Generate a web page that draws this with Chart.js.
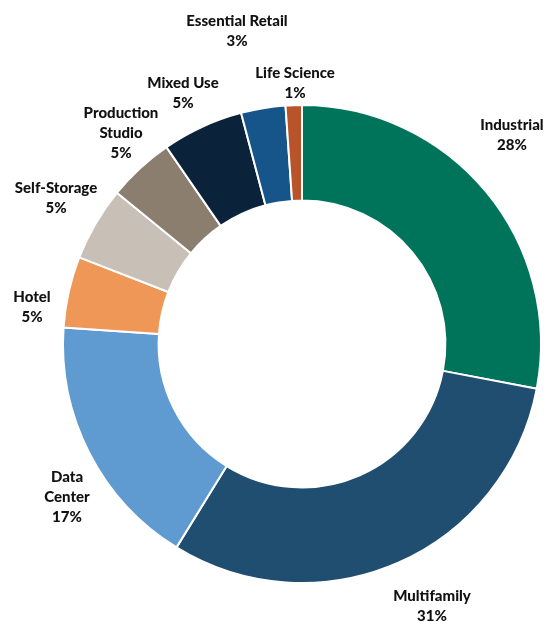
<!DOCTYPE html>
<html>
<head>
<meta charset="utf-8">
<script src="https://cdn.jsdelivr.net/npm/chart.js@4.4.1/dist/chart.umd.min.js"></script>
<style>
  html, body { margin: 0; padding: 0; background: #ffffff; }
  #wrap { position: relative; width: 548px; height: 622px; }
</style>
</head>
<body>
<div id="wrap"><canvas id="c"></canvas></div>
<script>
// ---- data ----
const categories = ["Industrial", "Multifamily", "Data Center", "Hotel", "Self-Storage", "Production Studio", "Mixed Use", "Essential Retail", "Life Science"];
const shares = [28.0, 30.8, 17.3, 4.8, 5.0, 4.5, 5.5, 3.0, 1.1];
const shareLabels = ["28%", "31%", "17%", "5%", "5%", "5%", "5%", "3%", "1%"];
const labelLines = [["Industrial"], ["Multifamily"], ["Data", "Center"], ["Hotel"], ["Self-Storage"], ["Production", "Studio"], ["Mixed Use"], ["Essential Retail"], ["Life Science"]];

// ---- styles ----
const colors = ["#00745a", "#1f4e71", "#5f9bd0", "#ef9756", "#c8bfb7", "#8c7e6e", "#0b223b", "#165589", "#b8532a"];
// text anchor (centre of first line) for each label
const labelAnchors = [[512, 125], [432, 596], [67, 477], [32, 297], [56, 188], [121, 113], [183, 83], [237, 21], [295, 73]];

const labelPlugin = {
  id: 'outerLabels',
  afterDraw(chart) {
    const ctx = chart.ctx;
    ctx.save();
    ctx.fillStyle = '#111111';
    ctx.font = '900 15px Lato, "Liberation Sans", sans-serif';
    ctx.textAlign = 'center';
    ctx.textBaseline = 'middle';
    const lh = 20;
    categories.forEach((c, i) => {
      const [x, y] = labelAnchors[i];
      const lines = labelLines[i].concat([shareLabels[i]]);
      lines.forEach((t, k) => ctx.fillText(t, x, y + k * lh));
    });
    ctx.restore();
  }
};

new Chart(document.getElementById('c'), {
  type: 'doughnut',
  data: {
    labels: categories,
    datasets: [{
      data: shares,
      backgroundColor: colors,
      borderColor: '#ffffff',
      borderWidth: 2
    }]
  },
  options: {
    responsive: true,
    maintainAspectRatio: false,
    animation: false,
    cutout: '60%',
    layout: { padding: { left: 62, right: 6, top: 104, bottom: 38 } },
    plugins: {
      legend: { display: false },
      tooltip: { enabled: false }
    }
  },
  plugins: [labelPlugin]
});
</script>
</body>
</html>
